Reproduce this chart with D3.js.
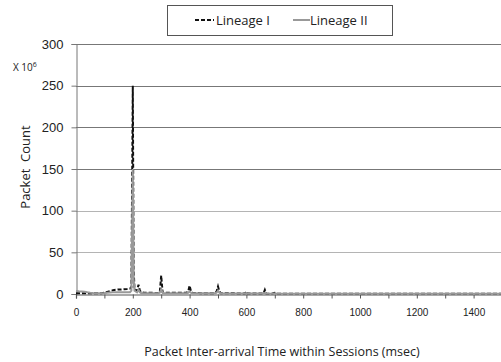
<!DOCTYPE html>
<html>
<head>
<meta charset="utf-8">
<script src="https://cdn.jsdelivr.net/npm/d3@7"></script>
<style>
  body { margin: 0; background: #fff; }
  svg { font-family: "Open Sans", "Liberation Sans", sans-serif; }
</style>
</head>
<body>
<svg id="chart"></svg>
<script>
// inter-arrival time (msec)
const times = [0, 10, 20, 30, 40, 50, 60, 70, 80, 90, 100, 110, 120, 130, 140, 150, 160, 170, 180, 190,
  195, 200, 203, 206, 210, 215, 220, 225, 230, 240, 250, 260, 270, 280, 290, 295, 300, 305, 310,
  320, 330, 340, 350, 360, 370, 380, 390, 395, 400, 405, 410, 420, 430, 440, 450, 460, 470, 480,
  490, 495, 500, 505, 510, 520, 540, 560, 580, 595, 600, 605, 620, 640, 655, 660, 665, 670, 690,
  700, 710, 750, 800, 900, 1000, 1100, 1200, 1300, 1400, 1500];

// packet counts (x 10^6)
const lineageI = [1, 1, 1, 1, 0.8, 0.8, 0.8, 0.8, 0.8, 1, 1.5, 2.5, 3.5, 4.5, 5, 5.5, 5.5, 5.8, 6, 6.5,
  8, 250, 30, 6, 5, 4, 11, 4, 2, 1.5, 1.5, 1.5, 1.5, 1.2, 1.2, 2, 22, 2, 1.5,
  1.5, 1.5, 1.5, 1.5, 1.5, 1.5, 1.5, 1.8, 3, 10, 3, 1.5, 1.2, 1.2, 1, 1, 1, 1, 1,
  1, 3, 9, 3, 1, 0.8, 0.8, 0.8, 0.5, 0.5, 3, 0.5, 0.5, 0.5, 0.5, 0.5, 5, 0.5, 0.4,
  1.5, 0.3, 0.3, 0.3, 0.2, 0.2, 0.2, 0.2, 0.2, 0.2, 0.2];

const lineageII = [3.5, 3.2, 3, 2.8, 2, 1.5, 1.2, 1, 1, 1, 1.2, 1.5, 1.8, 2, 2, 2, 2, 2, 2, 2.2,
  4, 150, 18, 4, 3, 2, 5, 2, 1, 1, 1, 1, 1, 1, 1, 1.5, 6, 1.5, 1,
  1, 1, 1, 1, 1, 1, 1, 1, 1.5, 3, 1.5, 1, 1, 1, 0.8, 0.8, 0.8, 0.8, 0.8,
  0.8, 1.5, 4, 1.5, 0.8, 0.6, 0.6, 0.6, 0.5, 0.5, 1, 0.5, 0.5, 0.5, 0.5, 0.5, 1, 0.5, 0.4,
  0.5, 0.3, 0.3, 0.3, 0.2, 0.2, 0.2, 0.2, 0.2, 0.2, 0.2];

const yTicks = [0, 50, 100, 150, 200, 250, 300];
const xTicks = [0, 200, 400, 600, 800, 1000, 1200, 1400];
const xMinorTicks = d3.range(0, 1501, 100);

const width = 501, height = 362;
const margin = { top: 44, right: 0, bottom: 68, left: 76 };

const svg = d3.select("#chart")
    .attr("width", width)
    .attr("height", height);

const x = d3.scaleLinear()
    .domain([0, 1500])
    .range([margin.left, width - margin.right + 1]);

const y = d3.scaleLinear()
    .domain([0, 300])
    .range([height - margin.bottom, margin.top]);

// gridlines
svg.append("g")
    .selectAll("line")
    .data(yTicks.filter(d => d > 0))
    .enter().append("line")
    .attr("x1", margin.left)
    .attr("x2", width)
    .attr("y1", d => Math.round(y(d)) + 0.5)
    .attr("y2", d => Math.round(y(d)) + 0.5)
    .attr("stroke", d => d <= 100 ? "#b4b4b4" : "#777")
    .attr("stroke-width", 1);

// y axis
const yAxis = svg.append("g")
    .attr("transform", `translate(${margin.left + 0.5},0)`)
    .call(d3.axisLeft(y).tickValues(yTicks).tickSize(5).tickPadding(8));
yAxis.select(".domain").attr("stroke", "#777");
yAxis.selectAll(".tick line").attr("stroke", "#777");
yAxis.selectAll("text")
    .style("font-size", "13px")
    .attr("fill", "#222");

// x axis with minor ticks every 100
const xAxis = svg.append("g")
    .attr("transform", `translate(0,${Math.round(y(0)) + 0.5})`)
    .call(d3.axisBottom(x).tickValues(xMinorTicks).tickSize(4).tickPadding(10)
        .tickFormat(d => xTicks.includes(d) ? d : ""));
xAxis.select(".domain").attr("stroke", "#555").attr("stroke-width", 1.2);
xAxis.selectAll(".tick line").attr("stroke", "#555");
xAxis.selectAll("text")
    .style("font-size", "10px")
    .attr("fill", "#222");

const line = d3.line()
    .x((d, i) => x(times[i]))
    .y(d => y(d));

svg.append("path")
    .datum(lineageI)
    .attr("fill", "none")
    .attr("stroke", "#111")
    .attr("stroke-width", 2)
    .attr("stroke-dasharray", "4,2")
    .attr("d", line);

svg.append("path")
    .datum(lineageII)
    .attr("fill", "none")
    .attr("stroke", "#999")
    .attr("stroke-width", 2)
    .attr("d", line);

// multiplier note
const note = svg.append("text")
    .attr("x", 13)
    .attr("y", 71)
    .style("font-size", "10px")
    .attr("fill", "#222");
note.append("tspan").text("X 10");
note.append("tspan").attr("dy", -4).style("font-size", "7px").text("6");

// y title
svg.append("text")
    .attr("transform", `translate(30,${(margin.top + height - margin.bottom) / 2 - 2}) rotate(-90)`)
    .attr("text-anchor", "middle")
    .style("font-size", "13px")
    .attr("fill", "#222")
    .attr("xml:space", "preserve")
    .text("Packet  Count");

// x title
svg.append("text")
    .attr("x", 282)
    .attr("y", 356)
    .attr("text-anchor", "middle")
    .style("font-size", "12.5px")
    .attr("fill", "#222")
    .text("Packet Inter-arrival Time within Sessions (msec)");

// legend
const legend = svg.append("g");
legend.append("rect")
    .attr("x", 167.5).attr("y", 5.5)
    .attr("width", 225).attr("height", 30)
    .attr("fill", "#fff").attr("stroke", "#555");
legend.append("line")
    .attr("x1", 195).attr("x2", 214).attr("y1", 20).attr("y2", 20)
    .attr("stroke", "#111").attr("stroke-width", 2).attr("stroke-dasharray", "4,2");
legend.append("text")
    .attr("x", 216).attr("y", 25)
    .style("font-size", "13px").attr("fill", "#222")
    .text("Lineage I");
legend.append("line")
    .attr("x1", 293).attr("x2", 310).attr("y1", 20).attr("y2", 20)
    .attr("stroke", "#999").attr("stroke-width", 2);
legend.append("text")
    .attr("x", 310).attr("y", 25)
    .style("font-size", "13px").attr("fill", "#222")
    .text("Lineage II");
</script>
</body>
</html>
